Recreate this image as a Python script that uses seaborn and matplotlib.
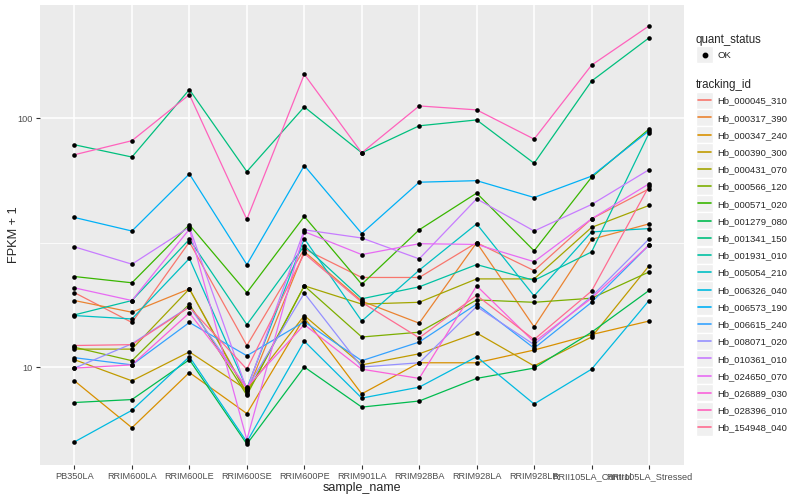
import numpy as np
import pandas as pd
import matplotlib
matplotlib.use("Agg")
import matplotlib.pyplot as plt
import seaborn as sns
from matplotlib.patches import Rectangle
from matplotlib.lines import Line2D
from matplotlib.legend_handler import HandlerBase
from matplotlib.ticker import FixedLocator, NullFormatter

samples = ["PB350LA", "RRIM600LA", "RRIM600LE", "RRIM600SE", "RRIM600PE",
           "RRIM901LA", "RRIM928BA", "RRIM928LA", "RRIM928LB",
           "RRII105LA_Control", "RRII105LA_Stressed"]

tracking_ids = ["Hb_000045_310", "Hb_000317_390", "Hb_000347_240", "Hb_000390_300",
                "Hb_000431_070", "Hb_000566_120", "Hb_000571_020", "Hb_001279_080",
                "Hb_001341_150", "Hb_001931_010", "Hb_005054_210", "Hb_006326_040",
                "Hb_006573_190", "Hb_006615_240", "Hb_008071_020", "Hb_010361_010",
                "Hb_024650_070", "Hb_026889_030", "Hb_028396_010", "Hb_154948_040"]

palette = ["#F8766D", "#EA8331", "#D89000", "#C09B00", "#A3A500", "#7CAE00",
           "#39B600", "#00BB4E", "#00BF7D", "#00C1A3", "#00BFC4", "#00BAE0",
           "#00B0F6", "#35A2FF", "#9590FF", "#C77CFF", "#E76BF3", "#FA62DB",
           "#FF62BC", "#FF6C91"]

# FPKM + 1 per sample (order of `samples`)
hb_000045_310 = [19.9, 15.1, 31.8, 12.2, 29.8, 22.9, 22.9, 31.6, 24.4, 39.4, 52.0]
hb_000317_390 = [18.5, 16.6, 20.6, 7.9, 29.1, 18.4, 15.0, 31.6, 14.5, 32.6, 37.6]
hb_000347_240 = [8.8, 5.7, 9.5, 6.5, 15.8, 7.8, 10.4, 10.4, 11.7, 13.5, 15.3]
hb_000390_300 = [10.7, 8.8, 11.5, 8.1, 16.1, 10.2, 11.3, 13.7, 10.1, 13.2, 25.5]
hb_000431_070 = [11.8, 11.8, 20.6, 7.8, 21.2, 17.9, 18.2, 22.6, 22.6, 36.4, 44.6]
hb_000566_120 = [12.0, 10.6, 17.9, 7.7, 21.2, 13.2, 13.8, 18.6, 18.2, 18.9, 24.1]
hb_000571_020 = [23.1, 21.8, 37.3, 19.9, 40.3, 21.5, 35.6, 50.0, 29.3, 57.9, 90.4]
hb_001279_080 = [7.2, 7.4, 10.7, 4.9, 10.0, 6.9, 7.3, 9.0, 9.9, 13.8, 20.3]
hb_001341_150 = [78.2, 69.8, 130.3, 61.0, 111.0, 72.6, 93.2, 98.4, 65.9, 141.0, 210.3]
hb_001931_010 = [16.2, 18.5, 32.6, 14.8, 30.7, 18.8, 21.0, 25.8, 22.3, 29.0, 87.1]
hb_005054_210 = [16.1, 15.6, 27.3, 8.2, 32.8, 15.3, 24.5, 37.6, 19.3, 34.9, 36.0]
hb_006326_040 = [5.0, 6.7, 11.0, 5.0, 12.7, 7.5, 8.3, 11.0, 7.1, 9.8, 18.5]
hb_006573_190 = [39.9, 35.2, 59.7, 25.8, 64.5, 34.4, 55.3, 56.1, 48.0, 58.5, 89.0]
hb_006615_240 = [10.9, 10.2, 15.1, 11.1, 15.2, 10.6, 12.6, 17.9, 11.9, 18.2, 30.9]
hb_008071_020 = [9.9, 12.4, 17.5, 8.2, 19.8, 10.0, 10.4, 17.5, 12.3, 19.2, 32.7]
hb_010361_010 = [30.4, 25.9, 36.5, 8.1, 35.6, 33.0, 27.2, 47.4, 35.2, 45.0, 62.1]
hb_024650_070 = [20.8, 18.5, 35.8, 5.1, 35.0, 28.3, 31.3, 31.1, 26.5, 39.4, 54.5]
hb_026889_030 = [9.9, 10.2, 16.5, 8.3, 14.8, 9.8, 9.0, 21.2, 12.6, 18.9, 30.9]
hb_028396_010 = [71.3, 81.2, 124.4, 39.2, 150.0, 72.6, 112.0, 108.0, 82.4, 163.4, 234.9]
hb_154948_040 = [12.2, 12.3, 17.4, 9.8, 28.6, 18.2, 13.1, 19.4, 12.9, 20.2, 53.3]

series = [hb_000045_310, hb_000317_390, hb_000347_240, hb_000390_300, hb_000431_070,
          hb_000566_120, hb_000571_020, hb_001279_080, hb_001341_150, hb_001931_010,
          hb_005054_210, hb_006326_040, hb_006573_190, hb_006615_240, hb_008071_020,
          hb_010361_010, hb_024650_070, hb_026889_030, hb_028396_010, hb_154948_040]

rows = []
for tid, vals in zip(tracking_ids, series):
    for i, (s, v) in enumerate(zip(samples, vals)):
        rows.append({"tracking_id": tid, "sample_name": s, "pos": i,
                     "value": v, "quant_status": "OK"})
df = pd.DataFrame(rows)

sns.set_style("darkgrid", {"axes.facecolor": "#EBEBEB", "grid.color": "white"})
plt.rcParams["font.family"] = ["Liberation Sans", "DejaVu Sans"]

fig = plt.figure(figsize=(8, 5), dpi=100)
ax = fig.add_axes([40 / 800, 35 / 500, (683.5 - 40) / 800, (465 - 5) / 500])

sns.lineplot(data=df, x="pos", y="value", hue="tracking_id", hue_order=tracking_ids,
             palette=palette, ax=ax, legend=False, linewidth=0.9, sort=False,
             estimator=None)
sns.scatterplot(data=df, x="pos", y="value", color="black", s=11, ax=ax,
                legend=False, linewidth=0, zorder=5)

ax.set_yscale("log")
lo, hi = np.log10(df["value"].min()), np.log10(df["value"].max())
pad = 0.05 * (hi - lo)
ax.set_ylim(10 ** (lo - pad), 10 ** (hi + pad))
ax.set_xlim(-0.6, len(samples) - 0.4)
ax.set_xticks(range(len(samples)))
ax.set_xticklabels(samples)
ax.set_yticks([10, 100])
ax.set_yticklabels(["10", "100"])
ax.yaxis.set_minor_locator(FixedLocator([10 ** 1.5]))
ax.yaxis.set_minor_formatter(NullFormatter())
ax.xaxis.set_minor_locator(FixedLocator([]))
ax.tick_params(which="minor", length=0)
ax.grid(which="major", color="white", linewidth=1.1)
ax.grid(which="minor", axis="y", color="white", linewidth=0.55)
ax.tick_params(which="major", length=3, width=0.8, color="#333333",
               labelsize=6.6, labelcolor="#4D4D4D", pad=2, bottom=True, left=True)
for sp in ax.spines.values():
    sp.set_visible(False)
ax.set_xlabel("sample_name", fontsize=9, labelpad=1)
ax.set_ylabel("FPKM + 1", fontsize=9.2, labelpad=-2)


class KeyHandler(HandlerBase):
    def __init__(self, color="black", point=False):
        super().__init__()
        self.color = color
        self.point = point

    def create_artists(self, legend, orig_handle, xdescent, ydescent, width,
                       height, fontsize, trans):
        cy = (height - ydescent) / 2
        size = width
        rect = Rectangle((-xdescent, cy - size / 2), size, size,
                         facecolor="#F0F0F0", edgecolor="white", linewidth=1,
                         transform=trans, zorder=1)
        if self.point:
            mark = Line2D([-xdescent + size / 2], [cy], marker="o", color="black",
                          linestyle="none", markersize=3.2, transform=trans, zorder=2)
        else:
            mark = Line2D([-xdescent + 1.5, -xdescent + size - 1.5], [cy, cy],
                          color=self.color, linewidth=1.2, transform=trans, zorder=2)
        return [rect, mark]


common = dict(loc="upper left", frameon=False, fontsize=6.8,
              handlelength=1.8, handleheight=0.7, handletextpad=0.5, borderpad=0,
              borderaxespad=0, labelspacing=0.87, bbox_transform=fig.transFigure)

lx = 696 / 800
fig.text(lx, 1 - 40 / 500, "quant_status", fontsize=8.3, va="center", ha="left")
fig.text(lx, 1 - 85 / 500, "tracking_id", fontsize=8.3, va="center", ha="left")

h1 = [Line2D([], [], color="black")]
leg1 = fig.legend(h1, ["OK"], handler_map={h1[0]: KeyHandler(point=True)},
                  bbox_to_anchor=(lx, 1 - 51 / 500), **common)

h2 = [Line2D([], [], color=c) for c in palette]
leg2 = fig.legend(h2, tracking_ids,
                  handler_map={h: KeyHandler(color=c) for h, c in zip(h2, palette)},
                  bbox_to_anchor=(lx, 1 - 96.5 / 500), **common)

fig.savefig("out.png", dpi=100, facecolor="white")
